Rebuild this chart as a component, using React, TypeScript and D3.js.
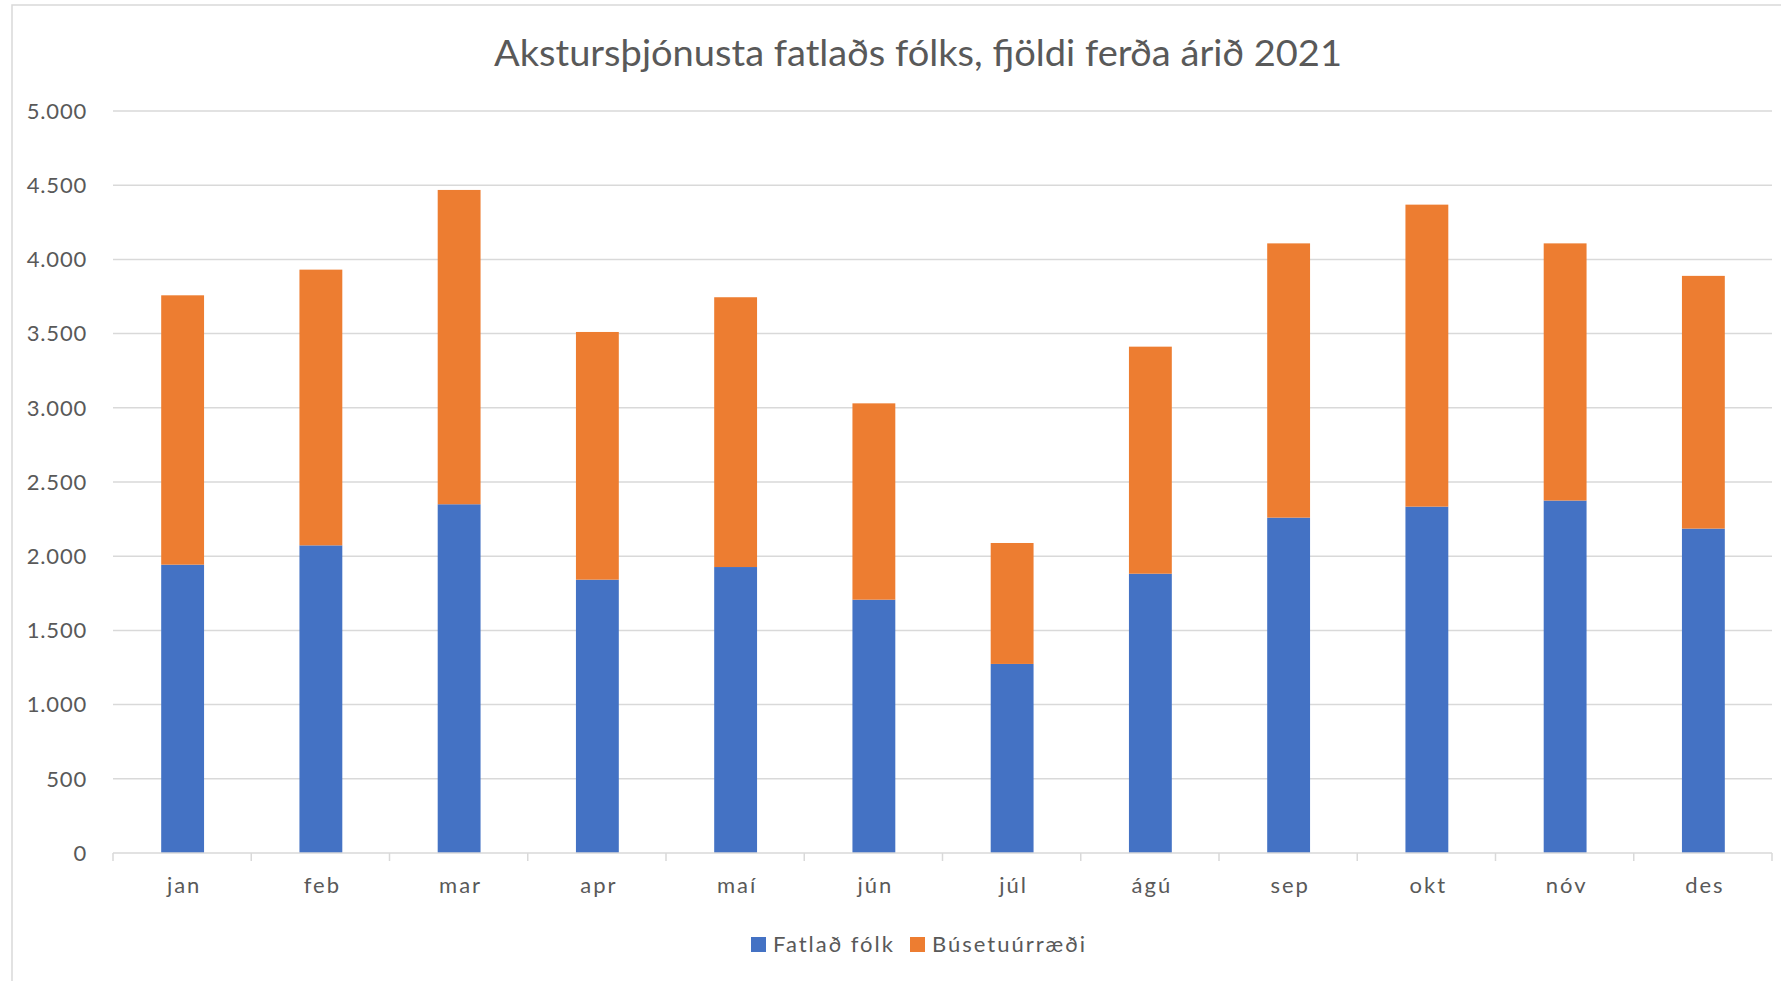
import * as d3 from "d3";

const months = ["jan", "feb", "mar", "apr", "maí", "jún", "júl", "ágú", "sep", "okt", "nóv", "des"];
const fatlad = [1943, 2073, 2350, 1842, 1927, 1707, 1274, 1882, 2260, 2334, 2375, 2186];
const buseta = [1815, 1858, 2118, 1669, 1818, 1323, 815, 1530, 1848, 2035, 1733, 1703];
const seriesNames = ["Fatlað fólk", "Búsetuúrræði"];
const colors = ["#4472C4", "#ED7D31"];
const yTicks = [0, 500, 1000, 1500, 2000, 2500, 3000, 3500, 4000, 4500, 5000];

const W = 1781;
const H = 981;
const left = 113;
const right = 1772;
const top = 111;
const bottom = 853;
const font = "Lato, 'Open Sans', sans-serif";
const textColor = "#595959";

const fmt = (v: number) => d3.format(",")(v).replace(/,/g, ".");

export default function App() {
  const x = d3.scaleBand().domain(months).range([left, right]).paddingInner(0.69).paddingOuter(0.345);
  const y = d3.scaleLinear().domain([0, 5000]).range([bottom, top]);

  const rows = months.map((m, i) => ({ month: m, a: fatlad[i], b: buseta[i] }));
  const stacked = d3.stack<any>().keys(["a", "b"])(rows);

  const step = x.step();
  const tickXs = d3.range(months.length + 1).map((i) => left + i * step);

  return (
    <svg width={W} height={H} style={{ position: "absolute", left: 0, top: 0 }} fontFamily={font}>
      <rect x={0} y={0} width={W} height={H} fill="white" />
      <rect x={12} y={5} width={W + 20} height={H + 20} fill="none" stroke="#D9D9D9" strokeWidth={1.5} />

      <text x={918} y={66} textAnchor="middle" fontSize={36} fill={textColor} textLength={848} lengthAdjust="spacingAndGlyphs">
        Akstursþjónusta fatlaðs fólks, fjöldi ferða árið 2021
      </text>

      {yTicks.map((t) => (
        <g key={t}>
          {t > 0 && <line x1={left} x2={right} y1={y(t)} y2={y(t)} stroke="#D9D9D9" strokeWidth={1.5} />}
          <text x={87} y={y(t)} dy="0.35em" textAnchor="end" fontSize={22} fill={textColor} letterSpacing={0.8}>
            {fmt(t)}
          </text>
        </g>
      ))}

      {stacked.map((s, si) =>
        s.map((d, i) => (
          <rect
            key={si + "-" + i}
            x={(x(months[i]) as number) + 0.5}
            y={y(d[1])}
            width={x.bandwidth()}
            height={y(d[0]) - y(d[1])}
            fill={colors[si]}
          />
        ))
      )}

      <line x1={left} x2={right} y1={bottom} y2={bottom} stroke="#D9D9D9" strokeWidth={1.5} />
      {tickXs.map((tx, i) => (
        <line key={i} x1={tx} x2={tx} y1={bottom} y2={bottom + 8} stroke="#D9D9D9" strokeWidth={1.5} />
      ))}

      {months.map((m) => (
        <text key={m} x={(x(m) as number) + x.bandwidth() / 2 + 2} y={893} textAnchor="middle" fontSize={22} fill={textColor} letterSpacing={2}>
          {m}
        </text>
      ))}

      {seriesNames.map((n, i) => {
        const lx = [751, 910][i];
        return (
          <g key={n}>
            <rect x={lx} y={937} width={15} height={15} fill={colors[i]} />
            <text x={lx + 22} y={952} fontSize={22} fill={textColor} letterSpacing={2}>
              {n}
            </text>
          </g>
        );
      })}
    </svg>
  );
}
